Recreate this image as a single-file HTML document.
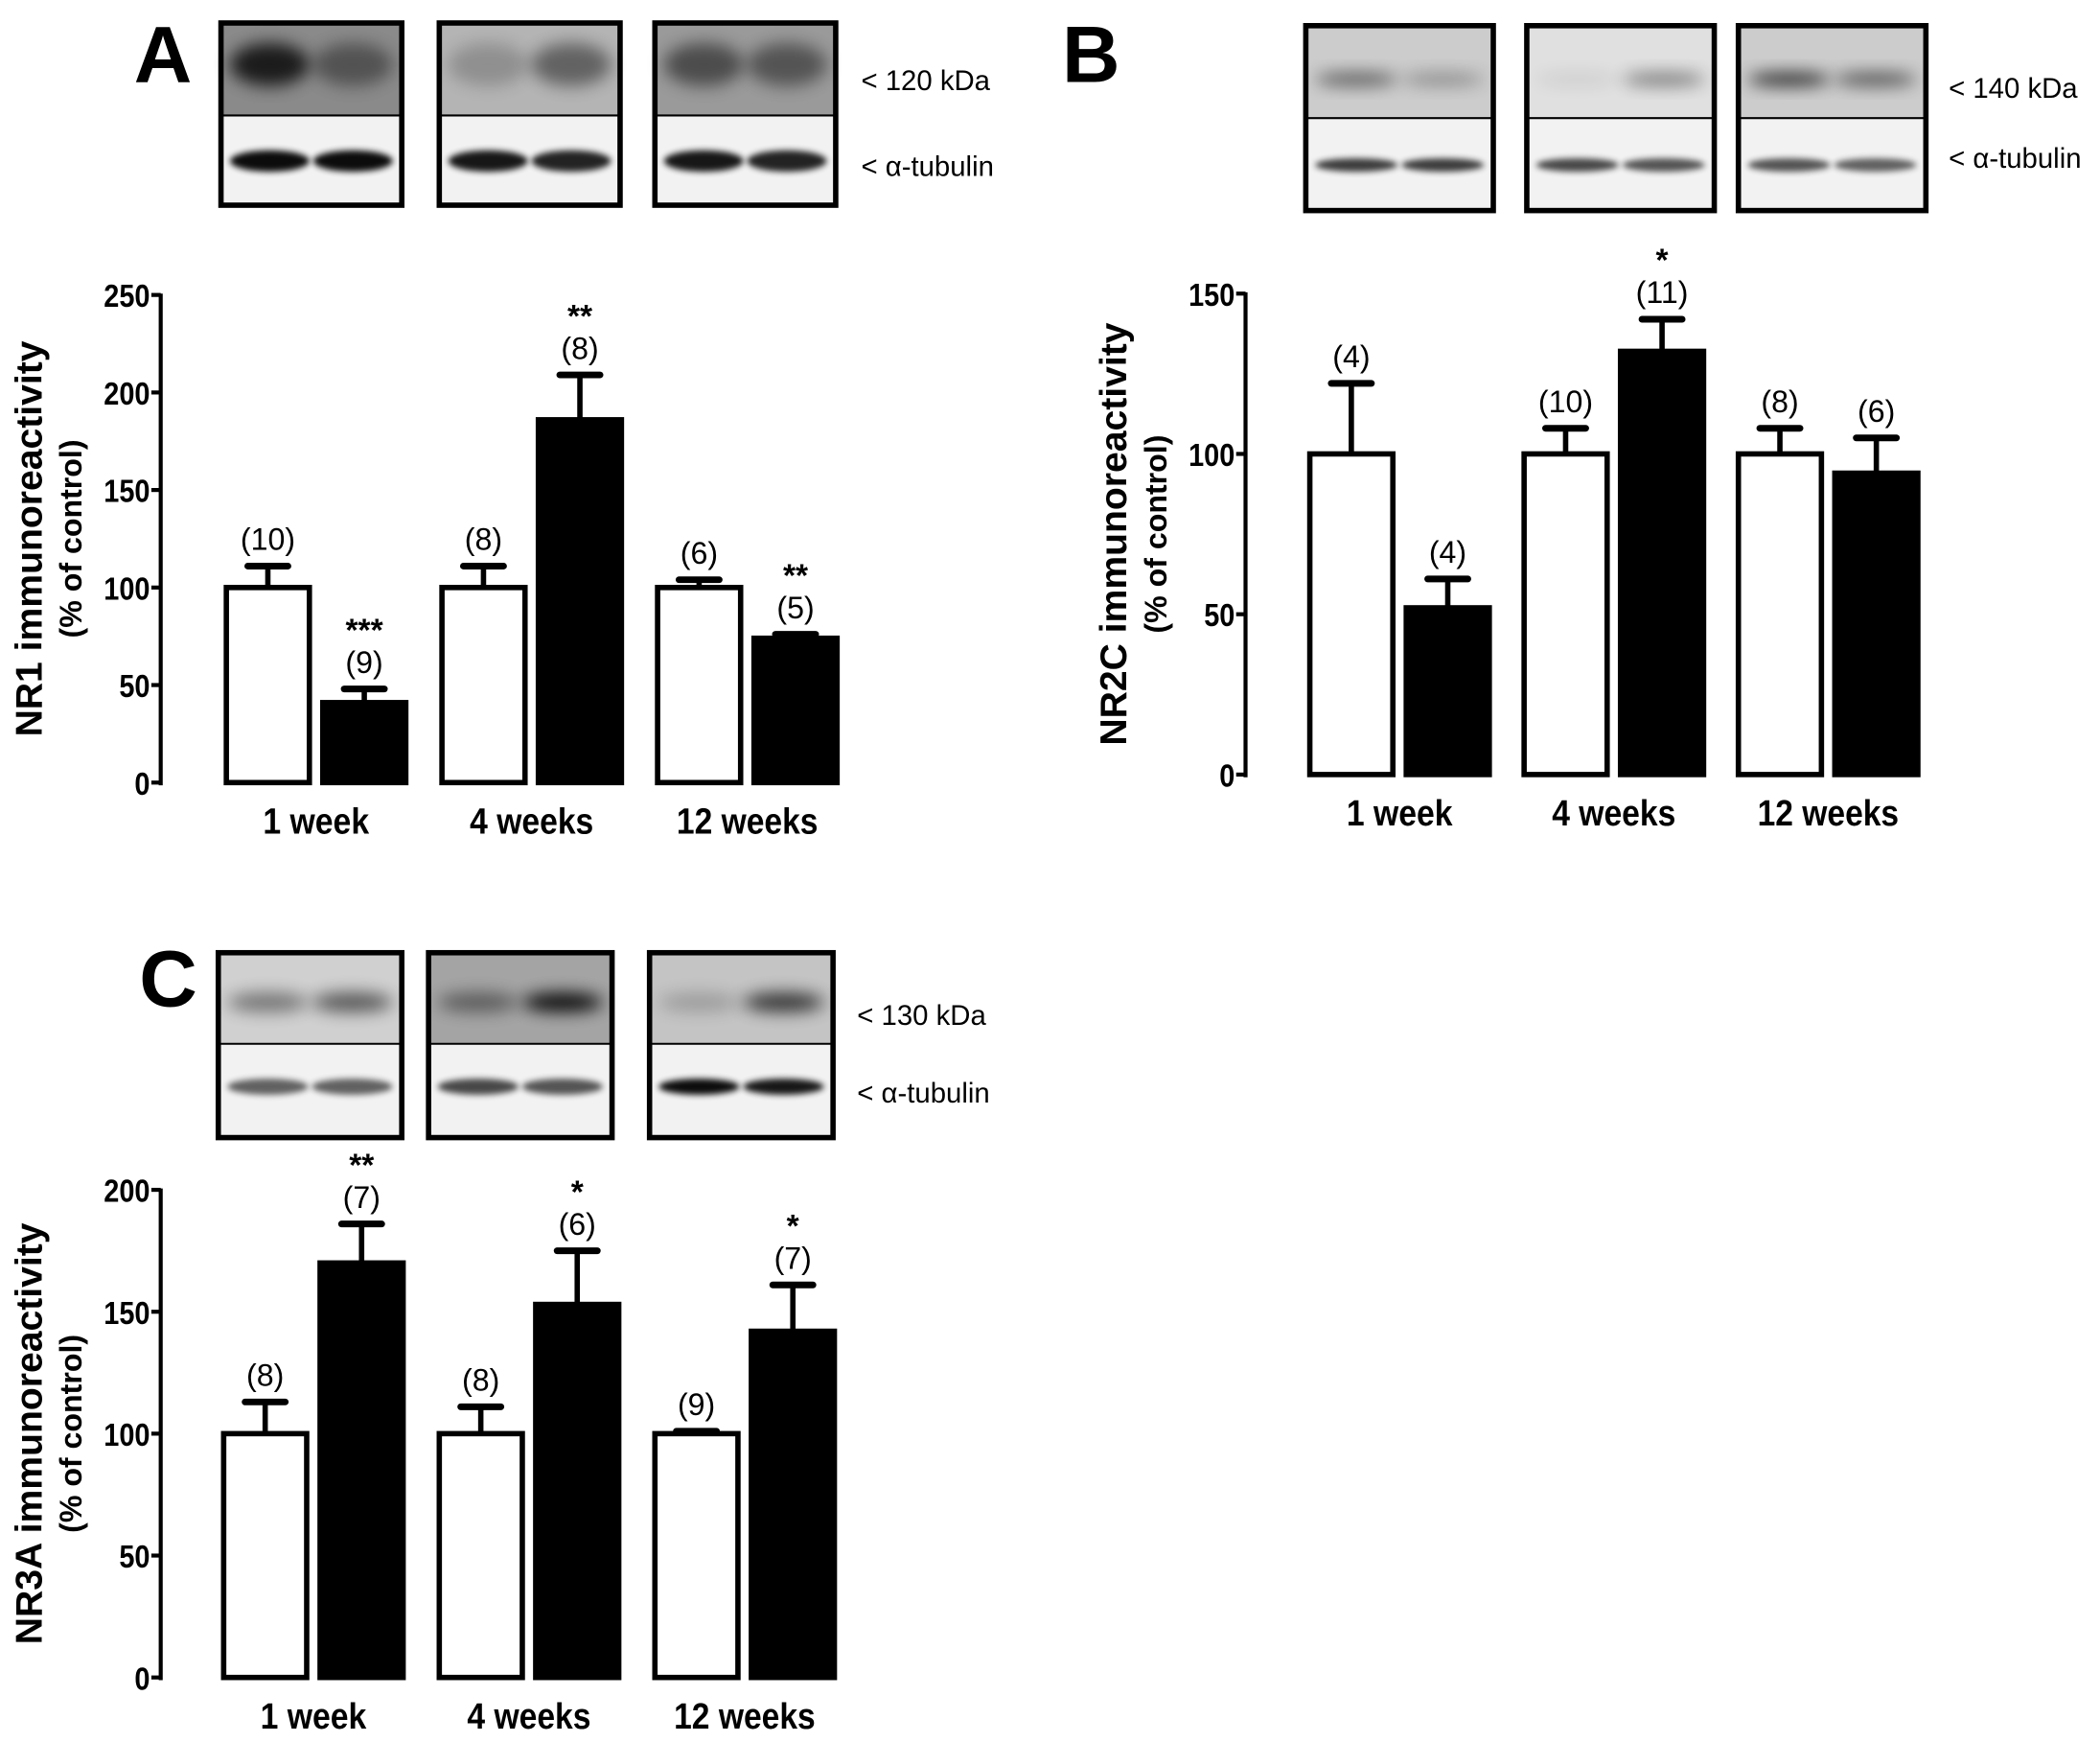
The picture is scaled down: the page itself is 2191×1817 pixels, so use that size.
<!DOCTYPE html>
<html><head><meta charset="utf-8">
<style>
html,body{margin:0;padding:0;background:#fff;}
svg{display:block;}
text{font-family:"Liberation Sans",Arial,sans-serif;}
</style></head>
<body>
<svg id="fig" width="2191" height="1817" viewBox="0 0 1568 1300" xmlns="http://www.w3.org/2000/svg">
<defs>
<filter id="blur" x="-30%" y="-100%" width="160%" height="300%"><feGaussianBlur stdDeviation="6"/></filter>
<filter id="blur2" x="-30%" y="-100%" width="160%" height="300%"><feGaussianBlur stdDeviation="2.2"/></filter>
</defs>
</svg>
<script>
// ---- data ----
const categories = ["1 week", "4 weeks", "12 weeks"];
// Panel A: NR1
const aControl = [100, 100, 100];
const aTreated = [41, 186, 74];
const aControlSem = [11, 11, 4];
const aTreatedSem = [7, 23, 2];
const aControlN = ["(10)", "(8)", "(6)"];
const aTreatedN = ["(9)", "(8)", "(5)"];
const aTreatedStars = ["***", "**", "**"];
const aTicks = [0, 50, 100, 150, 200, 250];
// Panel B: NR2C
const bControl = [100, 100, 100];
const bTreated = [52, 132, 94];
const bControlSem = [22, 8, 8];
const bTreatedSem = [9, 10, 11];
const bControlN = ["(4)", "(10)", "(8)"];
const bTreatedN = ["(4)", "(11)", "(6)"];
const bTreatedStars = ["", "*", ""];
const bTicks = [0, 50, 100, 150];
// Panel C: NR3A
const cControl = [100, 100, 100];
const cTreated = [170, 153, 142];
const cControlSem = [13, 11, 1];
const cTreatedSem = [16, 22, 19];
const cControlN = ["(8)", "(8)", "(9)"];
const cTreatedN = ["(7)", "(6)", "(7)"];
const cTreatedStars = ["**", "*", "*"];
const cTicks = [0, 50, 100, 150, 200];

const NS = "http://www.w3.org/2000/svg";
const svg = document.getElementById("fig");
function mk(tag, attrs, parent, txt){
  const e = document.createElementNS(NS, tag);
  for (const k in attrs) e.setAttribute(k, attrs[k]);
  if (txt !== undefined) e.textContent = txt;
  (parent || svg).appendChild(e);
  return e;
}

function drawPanel(p){
  const g = mk("g", {});
  
  
  const yMax = p.ticks[p.ticks.length-1];
  const y = v => p.y0 - (v / yMax) * (p.y0 - p.yTop);
  const L = mk("text", {x:p.letterX, y:p.letterY, "font-size":60, "font-weight":"bold"}, g, p.letter);
  
  
  p.blotX.forEach((bx, i) => {
    const bg = mk("g", {}, g);
    
    
    const w = p.blotW, top = p.blotY, h = p.blotH, mid = p.blotMid;
    mk("rect", {x:bx, y:top, width:w, height:mid-top, fill:p.blotTopBg[i]}, bg);
    mk("rect", {x:bx, y:mid, width:w, height:top+h-mid, fill:"#f2f2f2"}, bg);
    const lane = [bx + w*0.27, bx + w*0.73];
    lane.forEach((lx, j) => {
      mk("ellipse", {cx:lx, cy:p.bandTopY, rx:w*0.22, ry:p.bandTopH, fill:"#000", opacity:p.bandTop[i][j], filter:"url(#blur)"}, bg);
      mk("ellipse", {cx:lx, cy:p.bandBotY, rx:w*0.22, ry:p.bandBotH, fill:"#000", opacity:p.bandBot[i][j], filter:"url(#blur2)"}, bg);
    });
    mk("line", {x1:bx, x2:bx+w, y1:mid, y2:mid, stroke:"#000", "stroke-width":1.5}, bg);
    mk("rect", {x:bx, y:top, width:w, height:h, fill:"none", stroke:"#000", "stroke-width":4}, bg);
  });
  const k1 = mk("text", {x:p.kdaX, y:p.kdaY, "font-size":21}, g, p.kda);
  
  
  const k2 = mk("text", {x:p.kdaX, y:p.tubY, "font-size":21}, g, "< α-tubulin");
  
  
  const ax = mk("line", {x1:p.axisX, x2:p.axisX, y1:y(yMax)-1, y2:p.y0+2, stroke:"#000", "stroke-width":3}, g);
  
  
  p.ticks.forEach(t => {
    mk("line", {x1:p.axisX-7, x2:p.axisX, y1:y(t), y2:y(t), stroke:"#000", "stroke-width":3}, g);
    const s = String(t);
    const tl = mk("text", {x:p.axisX-8, y:y(t)+9, "font-size":24, "font-weight":"bold", "text-anchor":"end", textLength: s.length*11.5, lengthAdjust:"spacingAndGlyphs"}, g, s);
    
    
  });
  const cy = (p.y0 + y(yMax)) / 2;
  const t1 = mk("text", {x:0, y:0, "font-size":28, "font-weight":"bold", "text-anchor":"middle", transform:`translate(${p.titleX},${cy}) rotate(-90)`}, g, p.title);
  
  
  const t2 = mk("text", {x:0, y:0, "font-size":23, "font-weight":"bold", "text-anchor":"middle", transform:`translate(${p.titleX+30},${cy}) rotate(-90)`}, g, "(% of control)");
  
  
  const bw = p.barW;
  categories.forEach((c, i) => {
    const gc = p.firstCenter + i * p.groupStep;
    const series = [
      {v:p.ctrl[i], s:p.ctrlSem[i], n:p.ctrlN[i], st:"", x:gc - p.barGap/2 - bw, fill:"#fff", name:'bar-control-'+i},
      {v:p.trt[i], s:p.trtSem[i], n:p.trtN[i], st:p.stars[i], x:gc + p.barGap/2, fill:"#000", name:'bar-treated-'+i}
    ];
    series.forEach(b => {
      const top = y(b.v);
      const r = mk("rect", {x:b.x+2, y:top, width:bw-4, height:p.y0-top, fill:b.fill, stroke:"#000", "stroke-width":4}, g);
      
      
      const cx = b.x + bw/2;
      const et = y(b.v + b.s);
      const e1 = mk("line", {x1:cx, x2:cx, y1:top, y2:et, stroke:"#000", "stroke-width":4}, g);
      
      
      mk("line", {x1:cx-15, x2:cx+15, y1:et, y2:et, stroke:"#000", "stroke-width":5, "stroke-linecap":"round"}, g);
      const nb = et - 12;
      const nl = mk("text", {x:cx, y:nb, "font-size":23, "text-anchor":"middle"}, g, b.n);
      
      
      if (b.st) {
        const sl = mk("text", {x:cx, y:nb-24, "font-size":24, "font-weight":"bold", "text-anchor":"middle"}, g, b.st);
        
        
      }
    });
    const xl = mk("text", {x:gc, y:p.y0+38, "font-size":27, "font-weight":"bold", "text-anchor":"middle", textLength: c.length*13.2, lengthAdjust:"spacingAndGlyphs"}, g, c);
    
    
  });
}

drawPanel({name:"panel-a-nr1", letter:"A", letterX:100, letterY:61,
  blotX:[165,328,489], blotW:135, blotY:17, blotH:136, blotMid:86,
  blotTopBg:["#8a8a8a","#b4b4b4","#9a9a9a"],
  bandTop:[[0.8,0.4],[0.2,0.45],[0.5,0.45]], bandTopY:48, bandTopH:16,
  bandBot:[[0.95,0.95],[0.9,0.85],[0.9,0.85]], bandBotY:120, bandBotH:8,
  kda:"< 120 kDa", kdaX:643, kdaY:67, tubY:131,
  axisX:120, y0:584, yTop:220, ticks:aTicks, title:"NR1 immunoreactivity", titleX:31,
  firstCenter:236, groupStep:161, barW:66, barGap:6,
  ctrl:aControl, trt:aTreated, ctrlSem:aControlSem, trtSem:aTreatedSem, ctrlN:aControlN, trtN:aTreatedN, stars:aTreatedStars});

drawPanel({name:"panel-b-nr2c", letter:"B", letterX:793, letterY:61,
  blotX:[975,1140,1298], blotW:140, blotY:19, blotH:138, blotMid:88,
  blotTopBg:["#cccccc","#e0e0e0","#cccccc"],
  bandTop:[[0.55,0.3],[0.08,0.45],[0.8,0.6]], bandTopY:59, bandTopH:5,
  bandBot:[[0.75,0.75],[0.7,0.65],[0.65,0.6]], bandBotY:123, bandBotH:5,
  kda:"< 140 kDa", kdaX:1455, kdaY:73, tubY:125,
  axisX:930, y0:578, yTop:219, ticks:bTicks, title:"NR2C immunoreactivity", titleX:841,
  firstCenter:1045, groupStep:160, barW:66, barGap:6,
  ctrl:bControl, trt:bTreated, ctrlSem:bControlSem, trtSem:bTreatedSem, ctrlN:bControlN, trtN:bTreatedN, stars:bTreatedStars});

drawPanel({name:"panel-c-nr3a", letter:"C", letterX:104, letterY:751,
  blotX:[163,320,485], blotW:137, blotY:711, blotH:138, blotMid:779,
  blotTopBg:["#d0d0d0","#a4a4a4","#c4c4c4"],
  bandTop:[[0.45,0.6],[0.45,0.95],[0.2,0.75]], bandTopY:748, bandTopH:7,
  bandBot:[[0.6,0.6],[0.7,0.65],[0.95,0.9]], bandBotY:811, bandBotH:6,
  kda:"< 130 kDa", kdaX:640, kdaY:765, tubY:823,
  axisX:120, y0:1252, yTop:888, ticks:cTicks, title:"NR3A immunoreactivity", titleX:31,
  firstCenter:234, groupStep:161, barW:66, barGap:6,
  ctrl:cControl, trt:cTreated, ctrlSem:cControlSem, trtSem:cTreatedSem, ctrlN:cControlN, trtN:cTreatedN, stars:cTreatedStars});
</script>
</body></html>
